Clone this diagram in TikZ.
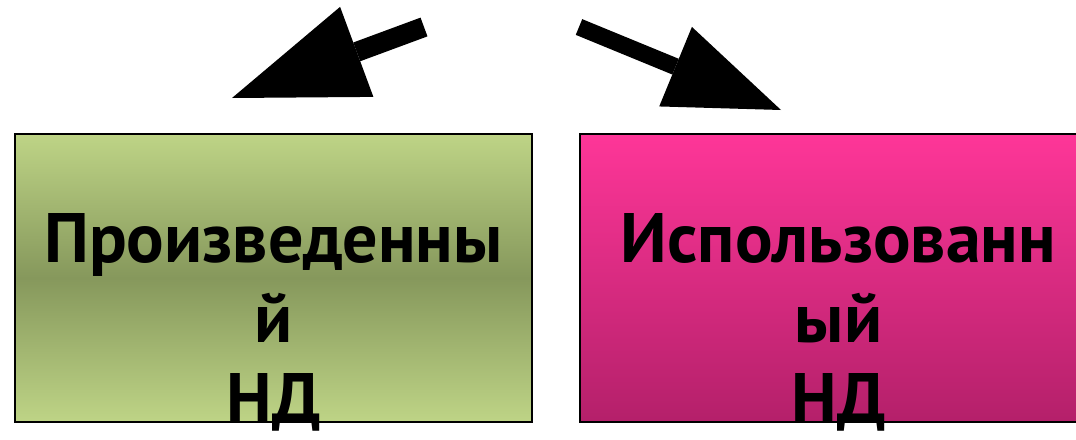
\documentclass[tikz,border=0pt]{standalone}
\usepackage{fontspec}
\setmainfont{PT Sans}
\usetikzlibrary{arrows.meta}

\definecolor{greentop}{RGB}{190,212,134}
\definecolor{greenmid}{RGB}{134,152,92}
\definecolor{pinktop}{RGB}{254,54,152}
\definecolor{pinkbot}{RGB}{180,32,106}

\begin{document}
\begin{tikzpicture}[x=0.5pt,y=-0.5pt,
    box/.style={rectangle,draw=black,line width=1pt,minimum width=258.5pt,minimum height=144pt,inner sep=0pt},
    green box/.style={box,top color=greentop,bottom color=greentop,middle color=greenmid},
    pink box/.style={box,top color=pinktop,bottom color=pinkbot},
    label text/.style={align=center,font=\bfseries\fontsize{35}{40}\selectfont,inner sep=0pt},
    big arrow/.style={line cap=butt}]
    \useasboundingbox (0,0) rectangle (1076,439);

    \node[green box] (1) at (273.5,278) {};
    \node[pink box] (2) at (838.5,278) {};

    \node[label text] (3) at (273.5,322) {Произведенны\\й\\НД};
    \node[label text] (4) at (838.5,322) {Использованн\\ый\\НД};

    \coordinate (a1) at (424,27);
    \coordinate (a2) at (232,98);
    \coordinate (b1) at (579,27);
    \coordinate (b2) at (781,110);

    \draw[big arrow,line width=10pt,-{Triangle[length=66.5pt,width=48pt,line width=0pt]}] (a1) -- (a2);
    \draw[big arrow,line width=8.5pt,-{Triangle[length=57pt,width=43pt,line width=0pt]}] (b1) -- (b2);
\end{tikzpicture}
\end{document}
